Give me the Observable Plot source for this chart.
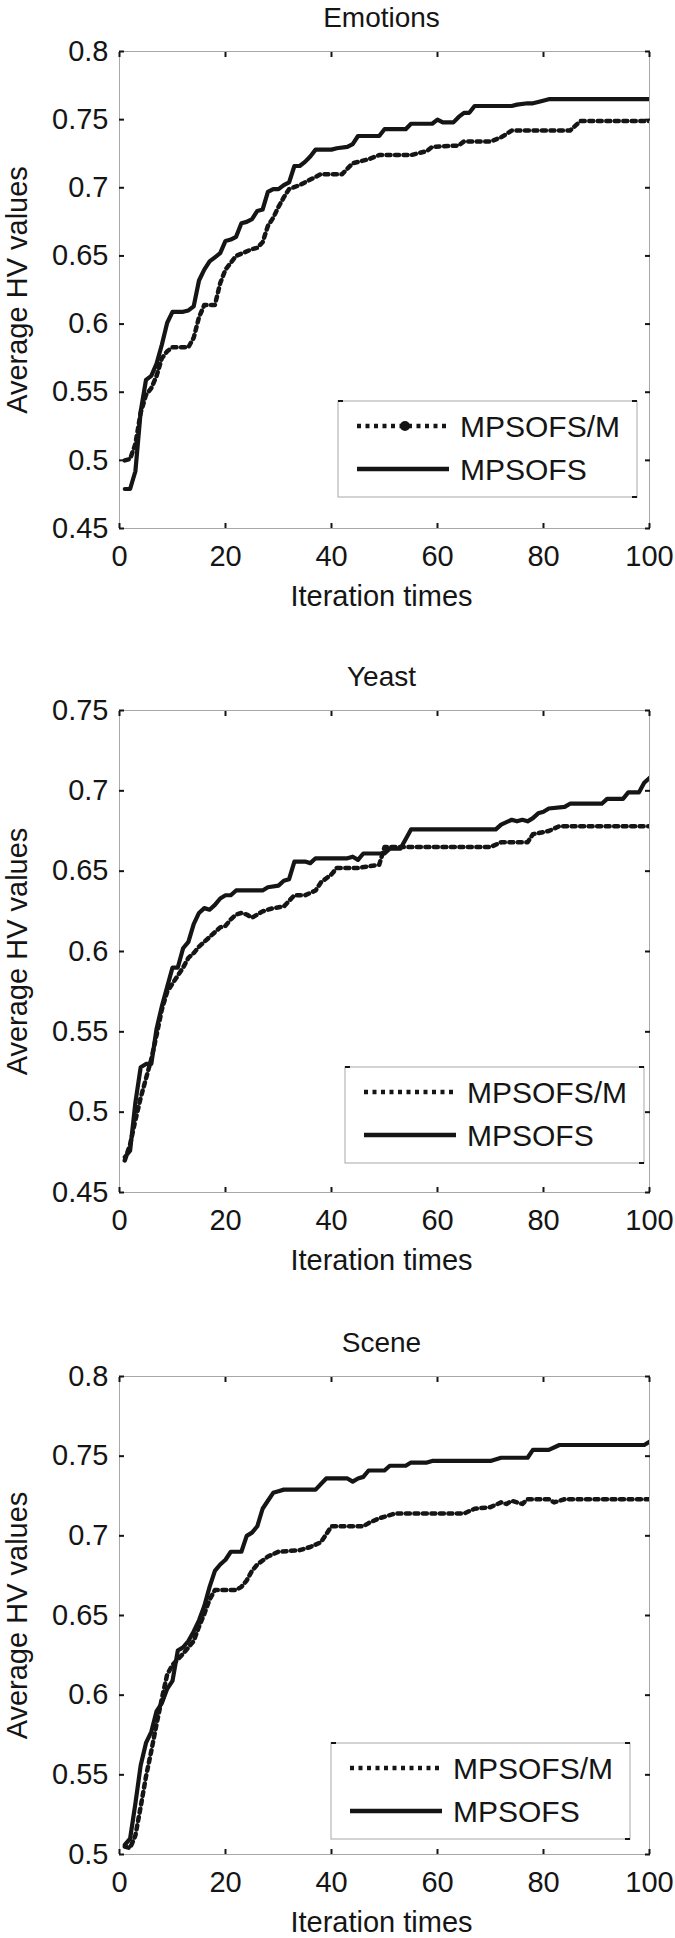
<!DOCTYPE html>
<html><head><meta charset="utf-8">
<script src="https://cdn.jsdelivr.net/npm/d3@7"></script>
<script src="https://cdn.jsdelivr.net/npm/@observablehq/plot@0.6"></script>
<style>
body{margin:0;background:#fff;}
#chart{width:675px;height:1938px;position:relative;overflow:hidden;background:#fff;}
#chart svg{display:block;}
</style></head><body><div id="chart"></div>
<script>
// ---------- data ----------
const xTicks = [0, 20, 40, 60, 80, 100];
const seriesNames = ["MPSOFS/M", "MPSOFS"];
const panelTitles = ["Emotions", "Yeast", "Scene"];
const xLabel = "Iteration times";
const yLabel = "Average HV values";

const emotionsYTicks = [0.45, 0.5, 0.55, 0.6, 0.65, 0.7, 0.75, 0.8];
const yeastYTicks = [0.45, 0.5, 0.55, 0.6, 0.65, 0.7, 0.75];
const sceneYTicks = [0.5, 0.55, 0.6, 0.65, 0.7, 0.75, 0.8];

// [iteration, average HV]
const emotionsM = [[1,0.500],[2,0.501],[3,0.512],[4,0.535],[5,0.548],[6,0.553],[7,0.562],[8,0.575],[9,0.580],[10,0.583],[13,0.583],[14,0.590],[15,0.605],[16,0.614],[18,0.614],[19,0.630],[20,0.640],[21,0.645],[22,0.650],[25,0.655],[26,0.656],[27,0.660],[28,0.672],[29,0.678],[30,0.686],[31,0.693],[32,0.699],[34,0.702],[36,0.706],[38,0.710],[42,0.710],[44,0.718],[47,0.721],[49,0.724],[55,0.724],[58,0.727],[59,0.730],[64,0.731],[65,0.734],[70,0.734],[72,0.737],[74,0.742],[85,0.742],[87,0.749],[100,0.749]];
const emotionsS = [[1,0.479],[2,0.479],[3,0.492],[4,0.536],[5,0.559],[6,0.562],[7,0.571],[8,0.585],[9,0.601],[10,0.609],[12,0.609],[13,0.610],[14,0.613],[15,0.632],[16,0.640],[17,0.646],[18,0.649],[19,0.652],[20,0.661],[21,0.662],[22,0.664],[23,0.674],[24,0.675],[25,0.677],[26,0.683],[27,0.684],[28,0.697],[29,0.699],[30,0.699],[31,0.702],[32,0.704],[33,0.716],[34,0.716],[35,0.719],[36,0.723],[37,0.728],[40,0.728],[41,0.729],[43,0.730],[44,0.732],[45,0.738],[49,0.738],[50,0.743],[54,0.743],[55,0.747],[59,0.747],[60,0.750],[61,0.748],[63,0.748],[64,0.752],[65,0.755],[66,0.755],[67,0.760],[74,0.760],[75,0.761],[77,0.762],[78,0.762],[79,0.763],[81,0.765],[100,0.765]];

const yeastM = [[1,0.470],[2,0.480],[3,0.495],[4,0.509],[5,0.521],[6,0.533],[7,0.548],[8,0.564],[9,0.575],[10,0.580],[11,0.585],[12,0.590],[13,0.596],[14,0.599],[15,0.603],[16,0.606],[17,0.609],[18,0.612],[19,0.615],[20,0.616],[21,0.620],[22,0.623],[23,0.624],[24,0.623],[25,0.621],[27,0.625],[29,0.627],[31,0.628],[33,0.635],[35,0.635],[37,0.638],[38,0.643],[40,0.648],[41,0.652],[45,0.652],[49,0.654],[50,0.665],[70,0.665],[72,0.668],[77,0.668],[78,0.673],[81,0.675],[83,0.678],[100,0.678]];
const yeastS = [[1,0.472],[2,0.476],[3,0.506],[4,0.528],[5,0.530],[6,0.530],[7,0.552],[8,0.566],[9,0.578],[10,0.590],[11,0.590],[12,0.602],[13,0.606],[14,0.617],[15,0.624],[16,0.627],[17,0.626],[18,0.629],[19,0.633],[20,0.635],[21,0.635],[22,0.638],[27,0.638],[28,0.640],[30,0.641],[31,0.644],[32,0.645],[33,0.656],[35,0.656],[36,0.655],[37,0.658],[43,0.658],[44,0.659],[45,0.657],[46,0.661],[50,0.661],[51,0.664],[53,0.664],[55,0.676],[71,0.676],[72,0.679],[74,0.682],[75,0.681],[76,0.682],[77,0.681],[78,0.683],[79,0.686],[80,0.687],[81,0.689],[84,0.690],[85,0.692],[91,0.692],[92,0.695],[95,0.695],[96,0.699],[98,0.699],[99,0.705],[100,0.708]];

const sceneM = [[1,0.505],[2,0.504],[3,0.512],[4,0.530],[5,0.549],[6,0.565],[7,0.582],[8,0.598],[9,0.613],[10,0.619],[12,0.626],[14,0.634],[15,0.643],[16,0.651],[17,0.660],[18,0.666],[22,0.666],[23,0.668],[24,0.672],[25,0.678],[26,0.682],[28,0.687],[30,0.690],[34,0.691],[36,0.693],[38,0.696],[40,0.706],[46,0.706],[47,0.708],[49,0.711],[52,0.714],[65,0.714],[67,0.717],[70,0.718],[72,0.721],[73,0.720],[74,0.722],[76,0.720],[77,0.723],[81,0.723],[82,0.721],[84,0.723],[100,0.723]];
const sceneS = [[1,0.506],[2,0.510],[3,0.532],[4,0.556],[5,0.570],[6,0.577],[7,0.590],[8,0.595],[9,0.604],[10,0.609],[11,0.628],[12,0.630],[13,0.634],[14,0.640],[15,0.647],[16,0.656],[17,0.668],[18,0.678],[19,0.682],[20,0.685],[21,0.690],[23,0.690],[24,0.700],[25,0.702],[26,0.706],[27,0.717],[28,0.722],[29,0.727],[30,0.728],[31,0.729],[37,0.729],[39,0.736],[43,0.736],[44,0.734],[45,0.736],[46,0.737],[47,0.741],[50,0.741],[51,0.744],[54,0.744],[55,0.746],[58,0.746],[59,0.747],[70,0.747],[72,0.749],[77,0.749],[78,0.754],[81,0.754],[83,0.757],[99,0.757],[100,0.759]];

// ---------- layout ----------
const FONT = "'Liberation Sans', Arial, Helvetica, sans-serif";
const INK = "#151515";
const DOTS = "4,4.5";
const panels = [
  {title: panelTitles[0], yTicks: emotionsYTicks, m: emotionsM, s: emotionsS, height: 640, marginTop: 51, marginBottom: 112, legendRight: 12, legendBottom: 31, marker: true},
  {title: panelTitles[1], yTicks: yeastYTicks, m: yeastM, s: yeastS, height: 660, marginTop: 70, marginBottom: 108, legendRight: 5, legendBottom: 29, marker: false},
  {title: panelTitles[2], yTicks: sceneYTicks, m: sceneM, s: sceneS, height: 638, marginTop: 76, marginBottom: 84, legendRight: 19, legendBottom: 15, marker: false}
];

function legendMark(p) {
  return function(...args) {
    const dims = args.find(a => a && typeof a === "object" && "marginLeft" in a && "width" in a);
    const bw = 299, bh = 96;
    const right = dims.width - dims.marginRight - p.legendRight;
    const bottom = dims.height - dims.marginBottom - p.legendBottom;
    const left = right - bw, top = bottom - bh;
    const g = d3.create("svg:g");
    g.append("rect").attr("x", left).attr("y", top).attr("width", bw).attr("height", bh)
      .attr("fill", "#fff").attr("stroke", "#a8a8a8").attr("stroke-width", 1);
    // small corner ticks (legend axes artifacts)
    [[left, top, 1], [right, top, -1], [right, bottom, -1]].forEach(([x, y, k]) => {
      g.append("line").attr("x1", x).attr("x2", x + k * 5).attr("y1", y).attr("y2", y)
        .attr("stroke", INK).attr("stroke-width", 2);
    });
    const rows = [top + 25, top + 68];
    seriesNames.forEach((name, i) => {
      const y = rows[i];
      g.append("line").attr("x1", left + 19).attr("x2", left + 111).attr("y1", y).attr("y2", y)
        .attr("stroke", INK).attr("stroke-width", 4.5)
        .attr("stroke-dasharray", i === 0 ? DOTS : null);
      if (i === 0 && p.marker) {
        g.append("circle").attr("cx", left + 67).attr("cy", y).attr("r", 5).attr("fill", INK);
      }
      g.append("text").attr("x", left + 122).attr("y", y + 11)
        .attr("text-anchor", "start")
        .attr("font-size", 30).attr("font-family", FONT).attr("fill", INK).text(name);
    });
    return g.node();
  };
}

const chart = document.getElementById("chart");
panels.forEach(p => {
  const toRows = arr => arr.map(([iter, value]) => ({iter, value}));
  const svg = Plot.plot({
    width: 675,
    height: p.height,
    marginLeft: 119,
    marginRight: 26,
    marginTop: p.marginTop,
    marginBottom: p.marginBottom,
    style: {fontFamily: FONT, fontSize: "29px", color: INK, background: "#fff", overflow: "visible"},
    x: {domain: [0, 100], label: null},
    y: {domain: [p.yTicks[0], p.yTicks[p.yTicks.length - 1]], label: null},
    marks: [
      Plot.frame({stroke: "#a8a8a8", strokeWidth: 1}),
      // tick labels
      Plot.axisY(p.yTicks, {anchor: "left", tickSize: 0, tickPadding: 11, tickFormat: d => String(d), fontSize: 29, label: null}),
      Plot.axisX(xTicks, {anchor: "bottom", tickSize: 0, tickPadding: 17, tickFormat: d => String(d), fontSize: 29, label: null}),
      // inward tick marks on all four sides
      Plot.axisY(p.yTicks, {anchor: "left", tickSize: 5, dx: 5, tickFormat: () => "", label: null, strokeWidth: 2}),
      Plot.axisY(p.yTicks, {anchor: "right", tickSize: 5, dx: -5, tickFormat: () => "", label: null, strokeWidth: 2}),
      Plot.axisX(xTicks, {anchor: "bottom", tickSize: 5, dy: -5, tickFormat: () => "", label: null, strokeWidth: 2}),
      Plot.axisX(xTicks, {anchor: "top", tickSize: 5, dy: 5, tickFormat: () => "", label: null, strokeWidth: 2}),
      // series
      Plot.line(toRows(p.m), {x: "iter", y: "value", stroke: INK, strokeWidth: 4.5, strokeDasharray: DOTS, clip: true}),
      Plot.line(toRows(p.s), {x: "iter", y: "value", stroke: INK, strokeWidth: 4.2, clip: true}),
      // texts
      Plot.text([p.title], {frameAnchor: "top", dy: -25, dx: -3, lineAnchor: "bottom", textAnchor: "middle", fontSize: 28, fill: INK}),
      Plot.text([xLabel], {frameAnchor: "bottom", dy: 77, dx: -3, lineAnchor: "bottom", textAnchor: "middle", fontSize: 29, fill: INK}),
      Plot.text([yLabel], {frameAnchor: "left", rotate: -90, dx: -93, lineAnchor: "bottom", textAnchor: "middle", fontSize: 29, fill: INK}),
      legendMark(p)
    ]
  });
  chart.appendChild(svg);
});
</script>
</body></html>
